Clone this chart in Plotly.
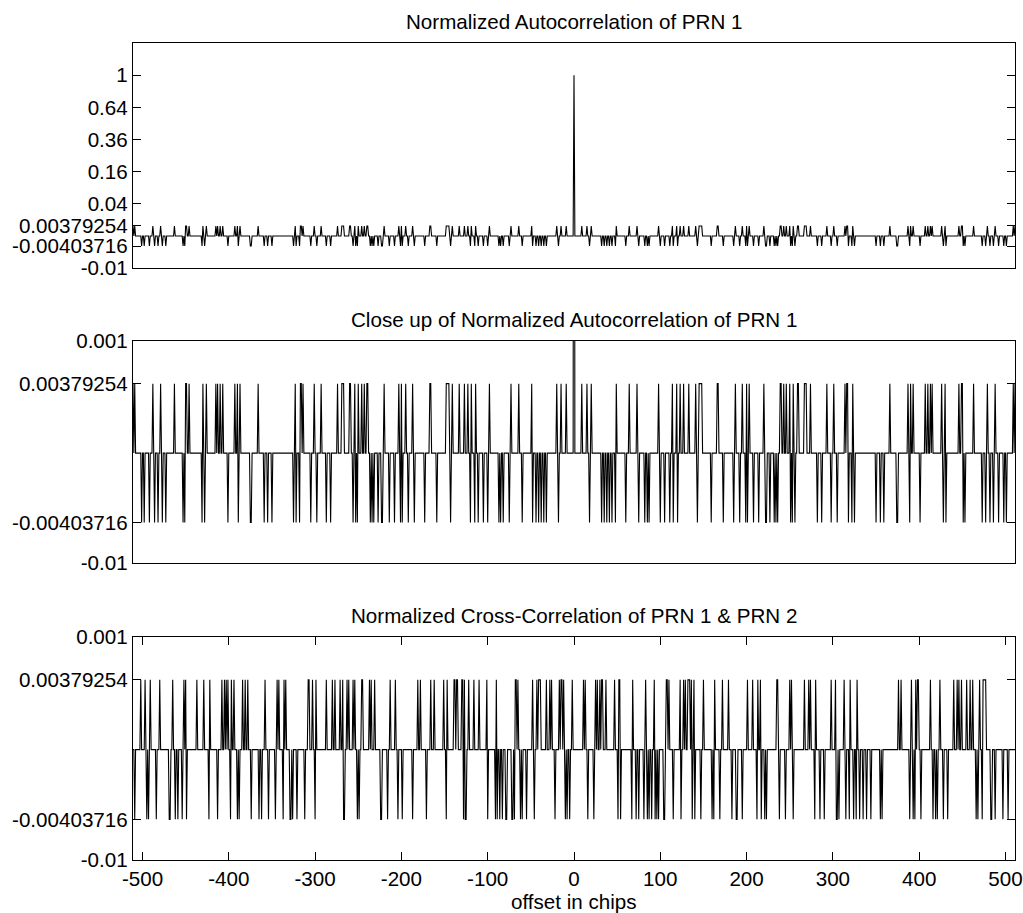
import numpy as np
import plotly.graph_objects as go

# Correlation levels of the 1023-chip C/A codes, in units of 1/1023:
#   'P' = 1023 (peak), '+' = 63, '0' = -1, '-' = -65
LEVELS = {"P": 1023, "+": 63, "0": -1, "-": -65}

# PRN 1 autocorrelation for offsets -511 .. 0 (the function is even)
AUTO_HALF = (
    "+0+0000000-00-00000-000+0-000-00+0-000-000000000+000000000-0-++00+00000000000000-+0-0+0000000000+0+0"
    "0+00+00000-0000000+00+-0+00000000000--0000000+000000-000-0000-000000000000000000000000-0+-000-++0+00"
    "000000-000+00-0000+00000-0000-0000000+0000+++000000++00-0+-0-+000+00+00++00-0-0-0000-000--0+00000-00000-"
    "0000+0-+-000+00-0000+0-00000000000-00000++000000-0000000000++++0-0+0000000+00000+000+00-+000-+00-00000-0"
    "000-0+0000000000-0-00-000000-0+00000000+000-0000000000+-000-00-00-00-00-00000000000+0-00+00000+00000000P"
)

# PRN 1 x PRN 2 cross-correlation for lags -511 .. 511 of PRN 2 against PRN 1
CROSS = (
    "00000000-00000-00000000-000--00000++++-00+0-0-000+00+000+00000+00+0+000+000000-0000-000+00-0-00-00+0"
    "000000000-00++0+-0-0+0-000000000+00+000000000000000000-0-0000000000-0000-000-000-00+-00-000+-000-0+0"
    "0000-0--+0000+0000000-0000-0000+-0000+0+0000+000000000000-0+0+0000-000000-0++00000000000-0-000-+00+-"
    "0000+00000+00000-00000--0000-000+000000+00-00000+-0-000000000+00-000000-+0-+0+++00+0+00-+0000000-000"
    "0+0++0--00000-0-0-+00-00-0-0+0-00000-00-000+-000000000000-++-000+000000000+000++0+00+0+0-000000-00+0"
    "+000000000000+00-00-0-0+0++0+0000-000+0+000+000000+++0+00-0+000000-0000-0-00+0++-0--00000--000-00-00"
    "-+-00000000-+00000000+00000+00000+00--+-++0000++0++0000000+-00+0000000000+000+0000-000000+00+00000-0"
    "0000000000-0000-00+00000+00-000000--000000+000+0+0000000++00-0-00+0+0000+0+00--+00+00000+00+000000+0"
    "0000000000+-00+000++000-00000000-0000-0--0000+0+-0000+0+0-0000000-000+000-00-00000000-000+00+00+000-"
    "0-000+00+-00+0+0+00+0000-00000000+-00000+0000000+00000000000-+0+0-0000-00-00+00--0000000000+000-0000"
    "00+0-0-0+0000+000000-00"
)

CHIPS = 1023
lags = np.arange(-511, 512)

auto_str = AUTO_HALF + AUTO_HALF[-2::-1]
auto = np.array([LEVELS[ch] for ch in auto_str]) / CHIPS
cross = np.array([LEVELS[ch] for ch in CROSS]) / CHIPS

TITLES = [
    "Normalized Autocorrelation of PRN 1",
    "Close up of Normalized Autocorrelation of PRN 1",
    "Normalized Cross-Correlation of PRN 1 & PRN 2",
]
X_LABEL = "offset in chips"

# x ticks, written with a plain hyphen for the minus sign
X_TICKVALS = [-500, -400, -300, -200, -100, 0, 100, 200, 300, 400, 500]
X_TICKTEXT = ["-500", "-400", "-300", "-200", "-100", "0", "100", "200", "300", "400", "500"]

# y tick positions (correlation values) and the labels printed beside them
TOP_TICKVALS = [-0.2, -65 / CHIPS, 63 / CHIPS, 0.2, 0.4, 0.6, 0.8, 1.0]
TOP_TICKTEXT = ["-0.01", "-0.00403716", "0.00379254", "0.04", "0.16", "0.36", "0.64", "1"]
ZOOM_TICKVALS = [-0.1, -65 / CHIPS, 63 / CHIPS, 0.1]
ZOOM_TICKTEXT = ["-0.01", "-0.00403716", "0.00379254", "0.001"]

FONT = "Arial, 'Liberation Sans', Helvetica, sans-serif"
FS = 20.6
W, H = 1023, 913
X0, X1 = 133, 1015
PANELS = [(43, 268), (341, 563), (637, 860)]  # top / bottom pixel rows of each panel
TITLE_Y = [22, 319, 615]
XLABEL_Y = 901.5

fig = go.Figure()
series = [(lags, auto), (lags, auto), (-lags, cross)]
for i, (x, y) in enumerate(series):
    fig.add_trace(go.Scatter(
        x=x, y=y, mode="lines",
        line=dict(color="black", width=1.1),
        xaxis="x" if i == 0 else f"x{i + 1}",
        yaxis="y" if i == 0 else f"y{i + 1}",
        showlegend=False, hoverinfo="skip",
    ))

layout = dict(
    width=W, height=H,
    margin=dict(l=0, r=0, t=0, b=0, autoexpand=False),
    paper_bgcolor="white", plot_bgcolor="white",
    font=dict(family=FONT, size=FS, color="black"),
    annotations=[],
)

for i, (top, bot) in enumerate(PANELS):
    sfx = "" if i == 0 else str(i + 1)
    last = i == len(PANELS) - 1
    layout["xaxis" + sfx] = dict(
        domain=[X0 / W, X1 / W],
        range=[-511, 511],
        anchor="y" + sfx,
        automargin=False,
        tickmode="array", tickvals=X_TICKVALS, ticktext=X_TICKTEXT,
        ticks="inside" if last else "",
        ticklen=8, tickwidth=1, tickcolor="black",
        showticklabels=last,
        ticklabelstandoff=0,
        showline=True, linecolor="black", linewidth=1.3,
        mirror="ticks" if last else True,
        showgrid=False, zeroline=False,
        tickfont=dict(size=FS),
    )
    layout["yaxis" + sfx] = dict(
        domain=[1 - bot / H, 1 - top / H],
        range=[-0.2, 1.2] if i == 0 else [-0.1, 0.1],
        anchor="x" + sfx,
        automargin=False,
        tickmode="array",
        tickvals=TOP_TICKVALS if i == 0 else ZOOM_TICKVALS,
        ticktext=TOP_TICKTEXT if i == 0 else ZOOM_TICKTEXT,
        ticks="inside", ticklen=8, tickwidth=1, tickcolor="black",
        showline=True, linecolor="black", linewidth=1.3,
        mirror="ticks",
        showgrid=False, zeroline=False,
        tickfont=dict(size=FS),
    )
    layout["annotations"].append(dict(
        text=TITLES[i], xref="paper", yref="paper",
        x=(X0 + X1) / 2 / W, y=1 - TITLE_Y[i] / H,
        xanchor="center", yanchor="middle", showarrow=False,
        font=dict(size=FS),
    ))

layout["annotations"].append(dict(
    text=X_LABEL, xref="paper", yref="paper",
    x=(X0 + X1) / 2 / W, y=1 - XLABEL_Y / H,
    xanchor="center", yanchor="middle", showarrow=False,
    font=dict(size=FS),
))

fig.update_layout(**layout)
fig.write_html("out.html")
